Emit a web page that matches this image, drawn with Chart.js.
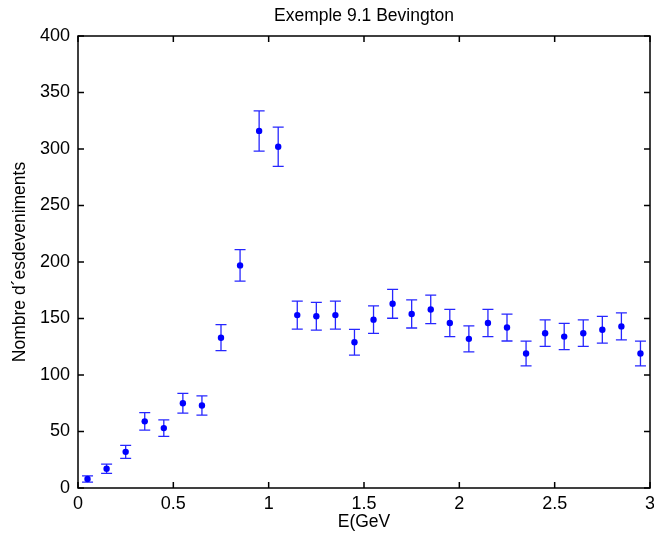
<!DOCTYPE html>
<html>
<head>
<meta charset="utf-8">
<script src="https://cdn.jsdelivr.net/npm/chart.js@4"></script>
<style>
  body { margin: 0; background: #ffffff; }
  canvas { display: block; }
</style>
</head>
<body>
<canvas id="bevington" width="654" height="537"></canvas>
<script>
// Energy bins (GeV), event counts and their statistical errors
const energies = [0.05, 0.15, 0.25, 0.35, 0.45, 0.55, 0.65, 0.75, 0.85, 0.95,
                  1.05, 1.15, 1.25, 1.35, 1.45, 1.55, 1.65, 1.75, 1.85, 1.95,
                  2.05, 2.15, 2.25, 2.35, 2.45, 2.55, 2.65, 2.75, 2.85, 2.95];
const counts = [8, 17, 32, 59, 53, 75, 73, 133, 197, 316,
                302, 153, 152, 153, 129, 149, 163, 154, 158, 146,
                132, 146, 142, 119, 137, 134, 137, 140, 143, 119];
const errors = [2.8, 4.1, 5.7, 7.7, 7.3, 8.7, 8.5, 11.5, 14.0, 17.8,
                17.4, 12.4, 12.3, 12.4, 11.4, 12.2, 12.8, 12.4, 12.6, 12.1,
                11.5, 12.1, 11.9, 10.9, 11.7, 11.6, 11.7, 11.8, 12.0, 10.9];
const xTicks = [0, 0.5, 1, 1.5, 2, 2.5, 3];
const yTicks = [0, 50, 100, 150, 200, 250, 300, 350, 400];

const titleText = 'Exemple 9.1 Bevington';
const fontFamily = '"Liberation Sans", Arial, sans-serif';

// error bars with caps, drawn under the markers
const errorBars = {
    id: 'errorBars',
    beforeDatasetsDraw(chart) {
        const { ctx, scales: { x, y } } = chart;
        ctx.save();
        ctx.strokeStyle = 'rgba(0, 0, 255, 0.85)';
        ctx.lineWidth = 1.3;
        for (let i = 0; i < energies.length; i++) {
            const px = x.getPixelForValue(energies[i]);
            const top = y.getPixelForValue(counts[i] + errors[i]);
            const bot = y.getPixelForValue(counts[i] - errors[i]);
            ctx.beginPath();
            ctx.moveTo(px, top); ctx.lineTo(px, bot);
            ctx.moveTo(px - 5.5, top); ctx.lineTo(px + 5.5, top);
            ctx.moveTo(px - 5.5, bot); ctx.lineTo(px + 5.5, bot);
            ctx.stroke();
        }
        ctx.restore();
    }
};

// boxed axes with inward ticks, plus the title over the plot area
const frame = {
    id: 'frame',
    afterDraw(chart) {
        const { ctx, chartArea: a, scales: { x, y } } = chart;
        ctx.save();
        ctx.strokeStyle = '#000000';
        ctx.lineWidth = 1.5;
        ctx.strokeRect(a.left, a.top, a.right - a.left, a.bottom - a.top);
        ctx.beginPath();
        xTicks.forEach(v => {
            const px = x.getPixelForValue(v);
            ctx.moveTo(px, a.bottom); ctx.lineTo(px, a.bottom - 6);
            ctx.moveTo(px, a.top); ctx.lineTo(px, a.top + 6);
        });
        yTicks.forEach(v => {
            const py = y.getPixelForValue(v);
            ctx.moveTo(a.left, py); ctx.lineTo(a.left + 6, py);
            ctx.moveTo(a.right, py); ctx.lineTo(a.right - 6, py);
        });
        ctx.stroke();

        ctx.fillStyle = '#000000';
        ctx.font = '17.5px ' + fontFamily;
        ctx.textAlign = 'center';
        ctx.textBaseline = 'middle';
        ctx.fillText(titleText, (a.left + a.right) / 2, 16);
        ctx.restore();
    }
};

const ctx = document.getElementById('bevington').getContext('2d');

new Chart(ctx, {
    type: 'scatter',
    data: {
        datasets: [{
            data: energies.map((e, i) => ({ x: e, y: counts[i] })),
            backgroundColor: '#0000ff',
            borderColor: '#0000ff',
            pointRadius: 3.2,
            pointBorderWidth: 0
        }]
    },
    options: {
        responsive: false,
        animation: false,
        layout: { padding: { top: 36, right: 3, left: 0, bottom: 0 } },
        plugins: {
            legend: { display: false },
            tooltip: { enabled: false }
        },
        scales: {
            x: {
                type: 'linear',
                min: 0,
                max: 3,
                afterFit(scale) {
                    scale.height = 49;
                    scale.paddingLeft = 0;
                    scale.paddingRight = 0;
                },
                afterBuildTicks(scale) { scale.ticks = xTicks.map(v => ({ value: v })); },
                grid: { display: false, drawTicks: false },
                border: { display: false },
                ticks: {
                    color: '#000000',
                    padding: 5,
                    maxRotation: 0,
                    font: { family: fontFamily, size: 18 },
                    callback: v => String(v)
                },
                title: {
                    display: true,
                    text: 'E(GeV',
                    color: '#000000',
                    padding: { top: 0, bottom: 4 },
                    font: { family: fontFamily, size: 17.5 }
                }
            },
            y: {
                min: 0,
                max: 400,
                afterFit(scale) {
                    scale.width = 78;
                    scale.paddingTop = 0;
                    scale.paddingBottom = 0;
                },
                afterBuildTicks(scale) { scale.ticks = yTicks.map(v => ({ value: v })); },
                grid: { display: false, drawTicks: false },
                border: { display: false },
                ticks: {
                    color: '#000000',
                    padding: 8,
                    font: { family: fontFamily, size: 18 }
                },
                title: {
                    display: true,
                    text: 'Nombre d´esdeveniments',
                    color: '#000000',
                    padding: { top: 10, bottom: 0 },
                    font: { family: fontFamily, size: 17.5 }
                }
            }
        }
    },
    plugins: [errorBars, frame]
});
</script>
</body>
</html>
